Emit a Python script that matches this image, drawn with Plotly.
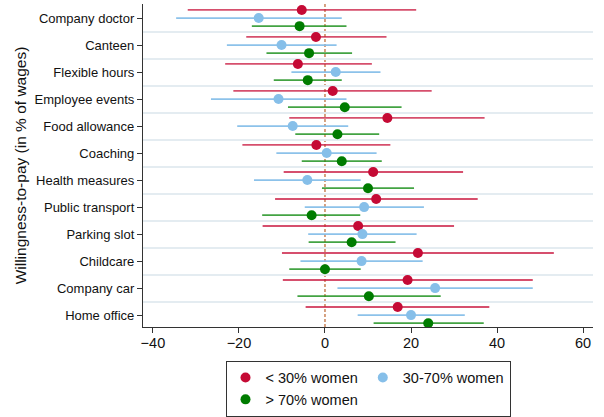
import plotly.graph_objects as go

# Benefits, listed top to bottom
benefits = ["Company doctor", "Canteen", "Flexible hours", "Employee events",
            "Food allowance", "Coaching", "Health measures", "Public transport",
            "Parking slot", "Childcare", "Company car", "Home office"]

# Willingness-to-pay point estimates and 95% confidence bounds, by share of women
low_est = [-5.4, -2.1, -6.3, 1.8, 14.5, -2.0, 11.2, 11.9, 7.7, 21.6, 19.2, 16.9]
low_lo = [-31.9, -18.3, -23.2, -21.3, -8.3, -19.2, -9.6, -11.6, -14.5, -10.0, -9.8, -4.5]
low_hi = [21.2, 14.3, 10.9, 24.8, 37.1, 15.2, 32.1, 35.5, 30.0, 53.2, 48.3, 38.2]

mid_est = [-15.4, -10.1, 2.5, -10.8, -7.5, 0.4, -4.1, 9.1, 8.7, 8.5, 25.6, 20.0]
mid_lo = [-34.6, -22.8, -7.8, -26.5, -20.4, -11.3, -16.5, -4.7, -3.9, -5.7, 2.9, 7.6]
mid_hi = [3.9, 2.7, 12.9, 5.0, 5.4, 12.0, 8.3, 23.0, 21.3, 22.7, 48.3, 32.5]

high_est = [-5.9, -3.7, -4.0, 4.6, 2.9, 3.9, 10.0, -3.1, 6.2, 0.0, 10.2, 24.0]
high_lo = [-17.0, -13.6, -11.9, -8.6, -6.9, -5.4, -0.7, -14.6, -3.8, -8.3, -6.4, 11.3]
high_hi = [5.0, 6.3, 3.9, 17.8, 12.6, 13.2, 20.7, 8.2, 16.4, 8.3, 26.9, 36.9]

x_ticks = [-40, -20, 0, 20, 40, 60]

groups = [
    ("< 30% women", low_est, low_lo, low_hi, -0.3, "#c50a35", "rgba(200,20,60,0.75)", "a"),
    ("30-70% women", mid_est, mid_lo, mid_hi, 0.0, "#86bfe9", "rgba(134,191,233,0.95)", "b"),
    ("> 70% women", high_est, high_lo, high_hi, 0.3, "#007c00", "rgba(20,140,20,0.8)", "a"),
]

fig = go.Figure()
for name, est, lo, hi, off, dot_color, bar_color, grp in groups:
    fig.add_trace(go.Scatter(
        x=est,
        y=[i + off for i in range(len(benefits))],
        mode="markers",
        name=name,
        legendgroup=grp,
        marker=dict(color=dot_color, size=10, line=dict(width=0)),
        error_x=dict(
            type="data", symmetric=False,
            array=[h - e for h, e in zip(hi, est)],
            arrayminus=[e - l for e, l in zip(est, lo)],
            color=bar_color, thickness=1.8, width=0,
        ),
    ))

fig.add_vline(x=0, line=dict(color="#c0703f", width=1.3, dash="3px,2px"), layer="below")

fig.update_layout(
    width=604, height=417,
    margin=dict(l=143, r=11, t=4, b=90, autoexpand=False),
    paper_bgcolor="white", plot_bgcolor="white",
    font=dict(family="Liberation Sans, Arial, sans-serif", color="#111"),
    showlegend=True,
    legend=dict(
        orientation="h", traceorder="grouped",
        x=0.5, xanchor="center", y=-0.104, yanchor="top",
        bordercolor="#333", borderwidth=1, bgcolor="white",
        font=dict(size=14.5), tracegroupgap=0,
    ),
    xaxis=dict(
        range=[-42.3, 62.3], tickvals=x_ticks, ticks="outside", ticklen=5,
        tickcolor="#333", showline=True, linecolor="#333", linewidth=1.2,
        showgrid=False, zeroline=False, tickfont=dict(size=14.5),
        ticklabelstandoff=-3,
    ),
    yaxis=dict(
        range=[11.44, -0.52], tickvals=list(range(len(benefits))), ticktext=benefits,
        ticks="outside", ticklen=5, tickcolor="#333", showline=True,
        linecolor="#333", linewidth=1.2, showgrid=False, zeroline=False,
        tickfont=dict(size=13),
        title=dict(text="Willingness-to-pay (in % of wages)", font=dict(size=15.5), standoff=4),
        minor=dict(tickvals=[i + 0.5 for i in range(len(benefits) - 1)], showgrid=True,
                   gridcolor="#e4ecf1", gridwidth=1.5, ticks=""),
    ),
)

fig.write_html("out.html")
